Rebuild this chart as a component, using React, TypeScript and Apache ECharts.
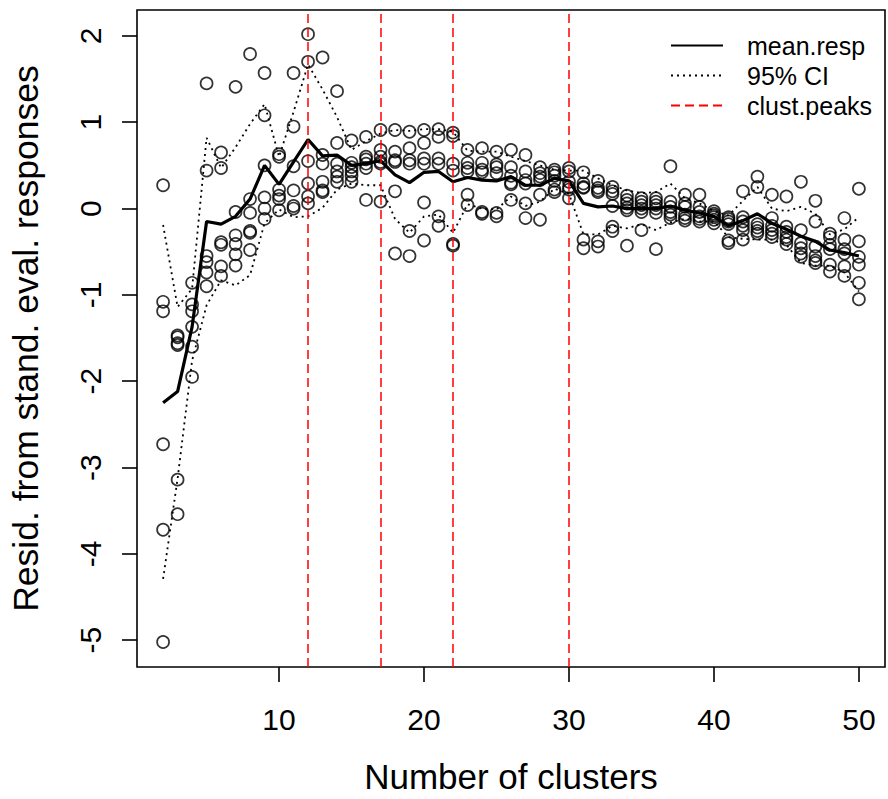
import React, { useEffect, useRef } from "react";
import * as echarts from "echarts";

const clusters = [2, 3, 4, 5, 6, 7, 8, 9, 10, 11, 12, 13, 14, 15, 16, 17, 18, 19, 20, 21, 22, 23, 24, 25, 26, 27, 28, 29, 30, 31, 32, 33, 34, 35, 36, 37, 38, 39, 40, 41, 42, 43, 44, 45, 46, 47, 48, 49, 50];

const meanResp = [-2.25, -2.12, -1.37, -0.15, -0.18, -0.09, 0.11, 0.5, 0.28, 0.54, 0.8, 0.61, 0.62, 0.5, 0.52, 0.555, 0.39, 0.3, 0.42, 0.43, 0.31, 0.36, 0.33, 0.32, 0.37, 0.27, 0.27, 0.35, 0.32, 0.06, 0.02, 0.03, 0.0, 0.0, 0.0, 0.03, -0.02, -0.05, -0.09, -0.2, -0.14, -0.06, -0.17, -0.24, -0.32, -0.38, -0.48, -0.51, -0.55];

const ciUpper = [-0.19, -1.14, -0.93, 0.82, 0.47, 0.71, 0.98, 1.21, 0.6, 1.12, 1.67, 1.38, 1.06, 0.68, 0.78, 0.87, 0.91, 0.9, 0.92, 0.92, 0.89, 0.67, 0.66, 0.66, 0.6, 0.55, 0.5, 0.45, 0.44, 0.44, 0.35, 0.27, 0.21, 0.18, 0.19, 0.29, 0.12, 0.06, -0.03, -0.08, 0.09, 0.25, 0.0, -0.03, 0.02, -0.06, -0.3, -0.24, -0.1];

const ciLower = [-4.29, -3.13, -1.76, -1.12, -0.83, -0.89, -0.77, -0.17, -0.01, -0.1, -0.09, 0.01, 0.22, 0.29, 0.27, 0.27, -0.12, -0.28, -0.09, -0.07, -0.28, 0.05, 0.0, -0.01, 0.14, 0.03, 0.08, 0.23, 0.17, -0.3, -0.3, -0.2, -0.23, -0.18, -0.25, -0.16, -0.12, -0.15, -0.15, -0.33, -0.35, -0.36, -0.36, -0.42, -0.63, -0.66, -0.66, -0.74, -0.96];

const clustPeaks = [12, 17, 22, 30];

const responses: number[][] = [
  [0.27, -1.08, -1.19, -2.73, -3.72, -5.02],
  [-1.47, -1.49, -1.56, -1.58, -3.14, -3.54],
  [-0.86, -1.11, -1.19, -1.37, -1.6, -1.95],
  [1.45, 0.44, -0.55, -0.62, -0.74, -0.9],
  [0.65, 0.47, -0.39, -0.42, -0.67, -0.78],
  [1.41, -0.04, -0.31, -0.41, -0.53, -0.66],
  [1.79, 0.11, -0.05, -0.26, -0.28, -0.48],
  [1.57, 1.08, 0.5, 0.13, 0.0, -0.12],
  [0.63, 0.6, 0.22, 0.15, 0.11, -0.02],
  [1.57, 0.95, 0.49, 0.21, 0.03, 0.0],
  [2.02, 1.7, 0.55, 0.29, 0.14, 0.06],
  [1.75, 0.62, 0.52, 0.31, 0.21, 0.19],
  [1.36, 0.76, 0.52, 0.43, 0.37, 0.31],
  [0.79, 0.53, 0.48, 0.43, 0.38, 0.31],
  [0.83, 0.6, 0.57, 0.52, 0.47, 0.1],
  [0.91, 0.68, 0.6, 0.54, 0.52, 0.08],
  [0.91, 0.66, 0.56, 0.54, 0.2, -0.52],
  [0.89, 0.7, 0.56, 0.52, -0.26, -0.55],
  [0.91, 0.76, 0.58, 0.52, 0.07, -0.37],
  [0.92, 0.83, 0.58, 0.52, -0.09, -0.2],
  [0.88, 0.84, 0.52, 0.44, -0.41, -0.43],
  [0.68, 0.53, 0.47, 0.43, 0.16, 0.04],
  [0.7, 0.53, 0.45, 0.42, -0.04, -0.06],
  [0.66, 0.51, 0.48, 0.41, -0.05, -0.09],
  [0.68, 0.48, 0.38, 0.3, 0.28, 0.1],
  [0.62, 0.43, 0.33, 0.29, 0.06, -0.11],
  [0.48, 0.41, 0.37, 0.33, 0.16, -0.13],
  [0.45, 0.42, 0.38, 0.32, 0.22, 0.19],
  [0.47, 0.43, 0.31, 0.25, 0.22, 0.12],
  [0.42, 0.29, 0.25, 0.24, -0.36, -0.46],
  [0.32, 0.24, 0.21, 0.19, -0.38, -0.44],
  [0.25, 0.2, 0.17, 0.03, -0.21, -0.26],
  [0.15, 0.1, 0.06, 0.01, -0.02, -0.43],
  [0.12, 0.08, 0.04, 0.0, -0.04, -0.25],
  [0.12, 0.08, 0.04, 0.0, -0.05, -0.47],
  [0.49, 0.08, 0.02, -0.04, -0.07, -0.11],
  [0.16, 0.06, 0.02, -0.07, -0.11, -0.14],
  [0.16, 0.02, -0.04, -0.09, -0.12, -0.15],
  [-0.03, -0.06, -0.08, -0.1, -0.13, -0.17],
  [-0.1, -0.12, -0.15, -0.18, -0.37, -0.4],
  [0.2, -0.1, -0.15, -0.2, -0.25, -0.36],
  [0.37, 0.25, -0.18, -0.22, -0.26, -0.29],
  [0.16, -0.11, -0.2, -0.25, -0.29, -0.33],
  [0.14, -0.21, -0.27, -0.33, -0.36, -0.41],
  [0.31, -0.25, -0.4, -0.46, -0.52, -0.56],
  [0.09, -0.15, -0.44, -0.55, -0.6, -0.63],
  [-0.29, -0.33, -0.42, -0.47, -0.65, -0.73],
  [-0.11, -0.36, -0.47, -0.52, -0.67, -0.78],
  [0.23, -0.38, -0.56, -0.65, -0.86, -1.05],
];

const xTicks = [10, 20, 30, 40, 50];
const yTicks = [-5, -4, -3, -2, -1, 0, 1, 2];
const legendNames = ["mean.resp", "95% CI", "clust.peaks"];

export default function App() {
  const ref = useRef<HTMLDivElement>(null);

  useEffect(() => {
    if (!ref.current) return;
    const chart = echarts.init(ref.current, null, { renderer: "svg" });
    const font = "'Liberation Sans', Arial, sans-serif";
    const scatterData = clusters.flatMap((k, i) => responses[i].map((v) => [k, v]));
    const pairs = (arr: number[]) => clusters.map((k, i) => [k, arr[i]]);
    const dotted = { color: "#000", width: 1.8, type: [2, 4] as number[] };
    const red = { color: "#ff0000", width: 1.5, type: [9, 5] as number[] };

    chart.setOption({
      animation: false,
      backgroundColor: "#fff",
      grid: {
        left: 137,
        top: 10,
        width: 748,
        height: 657,
        show: true,
        borderColor: "#000",
        borderWidth: 1.6,
        backgroundColor: "rgba(0,0,0,0)",
      },
      legend: {
        data: legendNames,
        orient: "vertical",
        left: 670,
        top: 33,
        padding: 0,
        itemWidth: 52,
        itemHeight: 25,
        itemGap: 5,
        selectedMode: false,
        itemStyle: { opacity: 0 },
        textStyle: { fontSize: 25, fontFamily: font, color: "#000", padding: [0, 0, 0, 19] },
      },
      xAxis: {
        type: "value",
        min: 0.2,
        max: 51.8,
        axisLine: { show: false, onZero: false },
        splitLine: { show: false },
        axisTick: { show: true, length: 15, lineStyle: { color: "#000", width: 1.6 }, customValues: xTicks },
        axisLabel: { customValues: xTicks, fontSize: 30, color: "#000", fontFamily: font, margin: 37 },
        name: "Number of clusters",
        nameLocation: "middle",
        nameGap: 92,
        nameTextStyle: { fontSize: 35, color: "#000", fontFamily: font },
      },
      yAxis: {
        type: "value",
        min: -5.31,
        max: 2.3,
        axisLine: { show: false, onZero: false },
        splitLine: { show: false },
        axisTick: { show: true, length: 15, lineStyle: { color: "#000", width: 1.6 }, customValues: yTicks },
        axisLabel: { customValues: yTicks, rotate: 90, fontSize: 30, color: "#000", fontFamily: font, margin: 32 },
        name: "Resid. from stand. eval. responses",
        nameLocation: "middle",
        nameGap: 93,
        nameTextStyle: { fontSize: 35.5, color: "#000", fontFamily: font },
      },
      series: [
        {
          name: "clust.peaks",
          type: "line",
          data: [],
          symbol: "none",
          lineStyle: red,
          itemStyle: { color: "#ff0000" },
          markLine: {
            silent: true,
            symbol: ["none", "none"],
            label: { show: false },
            lineStyle: red,
            data: clustPeaks.map((v) => ({ xAxis: v })),
          },
          z: 1,
        },
        {
          name: "responses",
          type: "scatter",
          data: scatterData,
          symbol: "circle",
          symbolSize: 12,
          itemStyle: { color: "rgba(0,0,0,0)", borderColor: "#000", borderWidth: 1.7 },
          silent: true,
          z: 2,
        },
        {
          name: "95% CI",
          type: "line",
          data: pairs(ciUpper),
          symbol: "none",
          lineStyle: dotted,
          itemStyle: { color: "#000" },
          silent: true,
          z: 3,
        },
        {
          name: "95% CI",
          type: "line",
          data: pairs(ciLower),
          symbol: "none",
          lineStyle: dotted,
          itemStyle: { color: "#000" },
          silent: true,
          z: 3,
        },
        {
          name: "mean.resp",
          type: "line",
          data: pairs(meanResp),
          symbol: "none",
          lineStyle: { color: "#000", width: 3.2 },
          itemStyle: { color: "#000" },
          silent: true,
          z: 4,
        },
      ],
    });
    return () => chart.dispose();
  }, []);

  return (
    <div
      ref={ref}
      style={{ position: "fixed", left: 0, top: 0, width: 888, height: 799, background: "#fff" }}
    />
  );
}
